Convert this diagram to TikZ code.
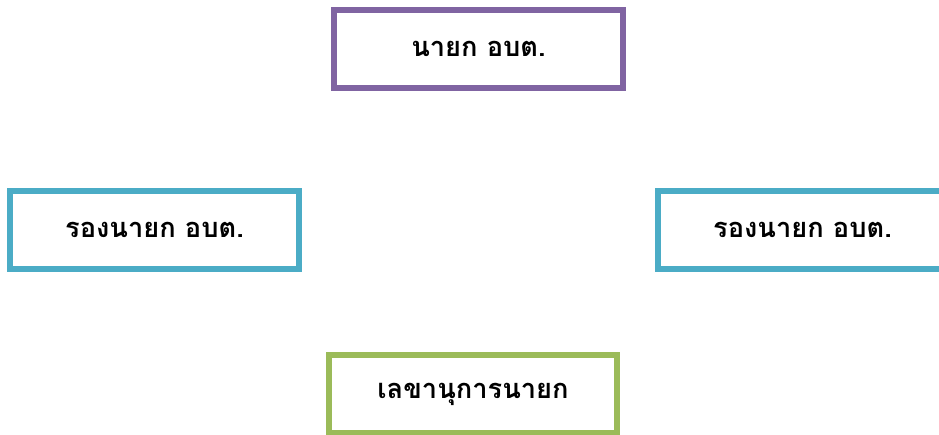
\documentclass[tikz,border=0pt]{standalone}
\usepackage{fontspec}
\newfontfamily\thaifont[Script=Thai]{Loma}
\usetikzlibrary{positioning}
\definecolor{chiefpurple}{HTML}{8064A2}
\definecolor{deputyblue}{HTML}{4BACC6}
\definecolor{secgreen}{HTML}{9BBB59}

\begin{document}
\begin{tikzpicture}[x=0.02cm, y=-0.02cm]
	\clip (0,0) rectangle (939,434);
	\useasboundingbox (0,0) rectangle (939,434);
	\begin{scope}[every node/.style={rectangle, draw, fill=white, line width=3.4pt,
	              minimum width=5.78cm, minimum height=1.56cm, inner sep=0pt,
	              font=\thaifont\bfseries\fontsize{15.5}{18}\selectfont}]
		\node[draw=chiefpurple] (chief) at (478.5,49) {นายก อบต.};
		\node[draw=deputyblue] (deputyL) at (154.5,230) {รองนายก อบต.};
		\node[draw=deputyblue] (deputyR) at (802.5,230) {รองนายก อบต.};
		\node[draw=secgreen] (secretary) at (473,394) {เลขานุการนายก};
	\end{scope}
\end{tikzpicture}
\end{document}
